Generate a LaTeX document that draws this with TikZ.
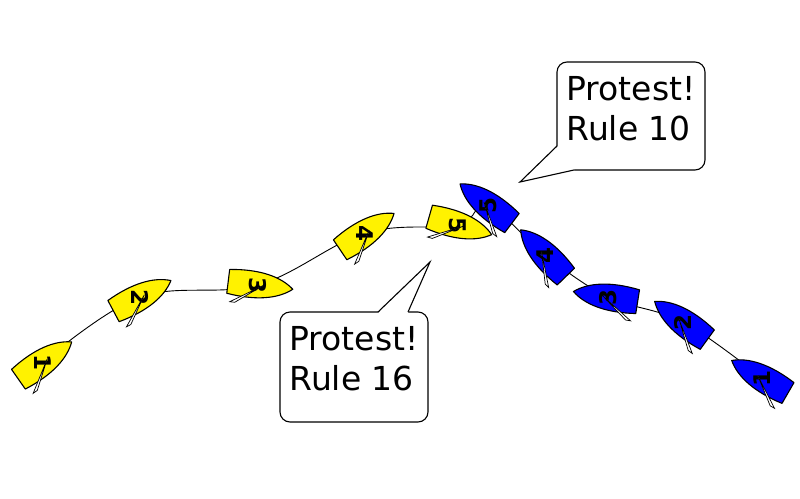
\documentclass[tikz,border=0pt]{standalone}
\usepackage{fontspec}
\setmainfont{DejaVu Sans}
\begin{document}
\begin{tikzpicture}[x=1pt,y=-1pt,line width=1.1pt,
  hull/.style={draw=black,line join=round},
  sail/.style={draw=black,fill=white,line width=0.7pt},
  callout/.style={draw=black,fill=white,rounded corners=10pt,line width=1.1pt},
  ctext/.style={font=\fontsize{33}{40}\selectfont,align=left,inner sep=0pt},
  pics/boat/.style n args={4}{code={
    \begin{scope}[rotate=#1]
    \path[hull,fill=#2] (-30,-12) -- (-30,12) .. controls (0,16) and (22,11) .. (35,0)
       .. controls (22,-11) and (0,-16) .. (-30,-12) -- cycle;
    \node[rotate=#4,font=\fontsize{23}{23}\selectfont\bfseries,inner sep=0pt] at (0,0) {#3};
    \path[sail] (5,0) -- (-26,-#4/4.5) -- (-21,-#4/4.5) -- cycle;
    \end{scope}}}]
\useasboundingbox (0,0) rectangle (800,498);
% course
\draw[line width=0.9pt] plot[smooth,tension=0.6] coordinates {(43,362) (140,297) (258,285) (365,233) (458,225) (488,205) (545,255) (608,297) (683,322) (762,378)};
% yellow
\pic at (43,362) {boat={35}{yellow}{1}{-90}};
\pic at (140,297) {boat={28}{yellow}{2}{-90}};
\pic at (258,285) {boat={-7}{yellow}{3}{-90}};
\pic at (365,233) {boat={34}{yellow}{4}{-90}};
\pic at (458,225) {boat={-16}{yellow}{5}{-90}};
% blue
\pic at (762,378) {boat={150}{blue}{1}{90}};
\pic at (683,322) {boat={144}{blue}{2}{90}};
\pic at (608,297) {boat={171}{blue}{3}{90}};
\pic at (545,255) {boat={134}{blue}{4}{90}};
\pic at (488,205) {boat={143}{blue}{5}{90}};
% callouts
\coordinate (t10) at (520,182);
\coordinate (t16) at (430,262);
\draw[callout] (557,62) rectangle (705,170);
\fill[white] (556,146) -- (t10) -- (574,171) -- (574,150) -- cycle;
\draw[line join=miter] (557,146) -- (t10) -- (574,170);
\node[ctext,anchor=north west] (r10) at (566,76) {Protest!\\Rule 10};
\draw[callout] (280,312) rectangle (428,422);
\fill[white] (378,313) -- (t16) -- (408,313) -- cycle;
\draw[line join=miter] (378,312) -- (t16) -- (408,312);
\node[ctext,anchor=north west] (r16) at (289,326) {Protest!\\Rule 16};
\end{tikzpicture}
\end{document}
